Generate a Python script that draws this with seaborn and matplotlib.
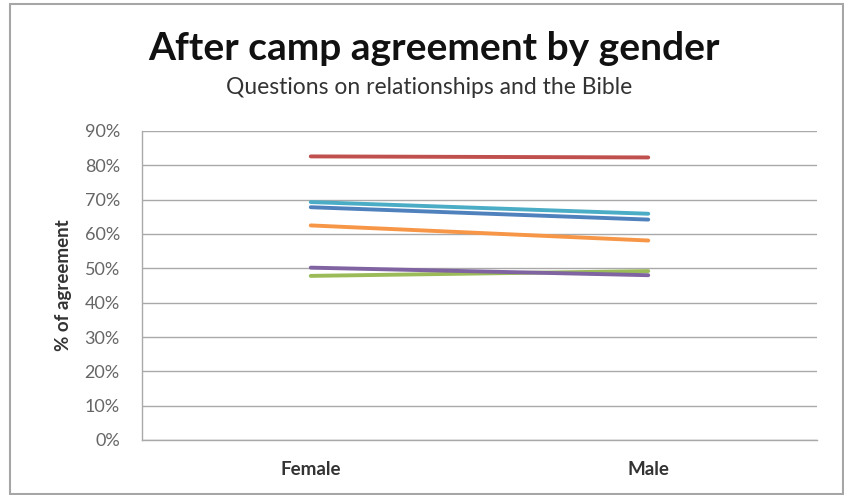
import matplotlib
matplotlib.use("Agg")
import matplotlib.pyplot as plt
import matplotlib.patches as mpatches
from matplotlib.ticker import PercentFormatter
import seaborn as sns
import pandas as pd

# Agreement (%) after camp, per question, for each gender
genders = ["Female", "Male"]
q1 = [67.8, 64.2]
q2 = [82.6, 82.3]
q3 = [47.8, 49.2]
q4 = [50.2, 48.0]
q5 = [69.3, 65.9]
q6 = [62.5, 58.1]

series = {"Q1": q1, "Q2": q2, "Q3": q3, "Q4": q4, "Q5": q5, "Q6": q6}
colors = {"Q1": "#4F81BD", "Q2": "#C0504D", "Q3": "#9BBB59",
          "Q4": "#8064A2", "Q5": "#4BACC6", "Q6": "#F79646"}

rows = []
for name, vals in series.items():
    for g, v in zip(genders, vals):
        rows.append({"question": name, "gender": g, "pct": v})
df = pd.DataFrame(rows)
df["x"] = df["gender"].map({g: i for i, g in enumerate(genders)})

sns.set_theme(style="white")
plt.rcParams["font.family"] = ["Lato", "DejaVu Sans"]

fig = plt.figure(figsize=(8.45, 4.95), dpi=100)
fig.patch.set_facecolor("white")
# outer chart border
fig.add_artist(mpatches.Rectangle((10 / 845, 1 / 495), 833 / 845, 490 / 495,
                                  transform=fig.transFigure, fill=False,
                                  edgecolor="#a6a6a6", linewidth=1.5))

ax = fig.add_axes([142 / 845, 1 - 440 / 495, 675 / 845, 309 / 495])
sns.lineplot(data=df, x="x", y="pct", hue="question", palette=colors,
             linewidth=2.8, legend=False, ax=ax, sort=False)

ax.set_xlim(-0.5, 1.5)
ax.set_ylim(0, 90)
ax.set_xticks([0, 1])
ax.set_xticklabels(genders, fontsize=13.5, fontweight="bold", color="#333333")
ax.set_yticks(range(0, 91, 10))
ax.yaxis.set_major_formatter(PercentFormatter(decimals=0))
ax.tick_params(axis="y", labelsize=13, labelcolor="#666666", length=0, pad=16)
ax.tick_params(axis="x", length=0, pad=15)
ax.set_xlabel("")
ax.set_ylabel("% of agreement", fontsize=13.5, fontweight="bold",
              color="#333333", labelpad=9)
ax.grid(axis="y", color="#a9a9a9", linewidth=1.0)
ax.set_axisbelow(True)
for side in ["top", "right"]:
    ax.spines[side].set_visible(False)
for side in ["left", "bottom"]:
    ax.spines[side].set_color("#a9a9a9")
    ax.spines[side].set_linewidth(1.0)

fig.text(0.514, 1 - 48 / 495, "After camp agreement by gender", ha="center",
         va="center", fontsize=28, fontweight="bold", color="#111111")
fig.text(0.508, 1 - 88 / 495, "Questions on relationships and the Bible",
         ha="center", va="center", fontsize=16.5, color="#333333")

fig.savefig("out.png", dpi=100, facecolor="white")
